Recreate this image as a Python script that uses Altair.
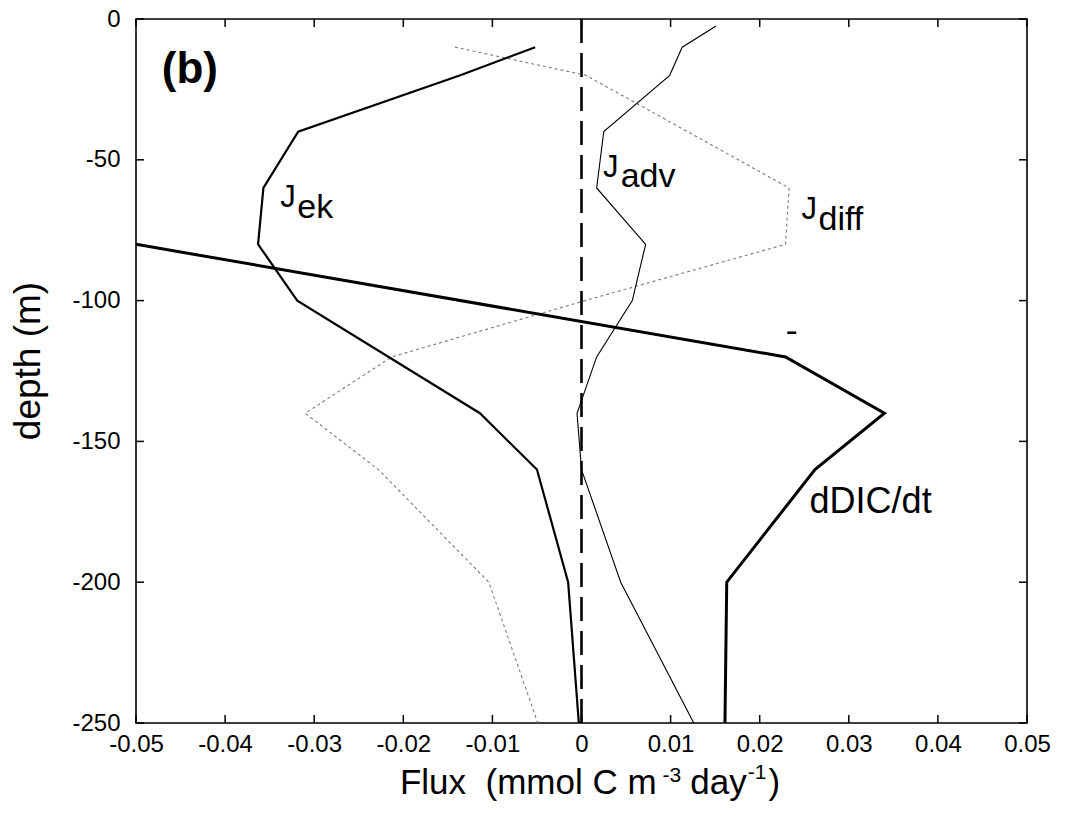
import altair as alt
import pandas as pd

# ---------------- data ----------------
depth_ek = [-10, -20, -40, -60, -80, -100, -140, -160, -200, -250]
flux_ek = [-0.0052, -0.0136, -0.0318, -0.0357, -0.0363, -0.0319, -0.0114, -0.0050, -0.0015, -0.0003]

depth_diff = [-10, -20, -60, -80, -100, -120, -140, -160, -200, -250]
flux_diff = [-0.0142, 0.0005, 0.0233, 0.0229, 0.0004, -0.0213, -0.0310, -0.0228, -0.0104, -0.0049]

depth_adv = [-2.5, -10, -20, -40, -60, -80, -100, -120, -140, -160, -200, -250]
flux_adv = [0.0151, 0.0113, 0.0099, 0.0025, 0.0017, 0.0072, 0.0057, 0.0017, -0.0005, 0.0000, 0.0044, 0.0126]

depth_ddic = [-80, -120, -140, -160, -200, -250]
flux_ddic = [-0.0500, 0.0229, 0.0340, 0.0262, 0.0163, 0.0161]

depth_zero = [0, -250]
flux_zero = [0.0, 0.0]

# small stray dash in the figure
dash_flux = [0.0231, 0.0241]
dash_depth = [-111.4, -111.4]

x_ticks = [-0.05, -0.04, -0.03, -0.02, -0.01, 0, 0.01, 0.02, 0.03, 0.04, 0.05]
y_ticks = [0, -50, -100, -150, -200, -250]

label_main = ["J", "J", "J", "dDIC/dt"]
label_main_x = [-0.0338, 0.0024, 0.0247, 0.0256]
label_main_y = [-66.8, -56.1, -71.0, -175.4]
label_main_size = [31, 31, 31, 36]

label_sub = ["ek", "adv", "diff"]
label_sub_x = [-0.0319, 0.0044, 0.0266]
label_sub_y = [-70.7, -59.7, -74.9]

panel_label = ["(b)"]
panel_x = [-0.0471]
panel_y = [-18.1]

# ---------------- layout ----------------
W, H = 891, 704
PAD_L, PAD_T = 136, 19
FONT = "Liberation Sans"

xs = alt.Scale(domain=[-0.05, 0.05], nice=False, zero=False)
ys = alt.Scale(domain=[-250, 0], nice=False, zero=False)

xaxis = alt.Axis(
    values=x_ticks, title=None, ticks=False, domain=False, grid=False,
    labelExpr="datum.value == 0 ? '0' : replace(format(datum.value, '.2f'), '\u2212', '-')",
    labelFontSize=24, labelFont=FONT, labelColor="black", labelPadding=9,
    labelFlush=False, labelOverlap=False,
)
yaxis = alt.Axis(
    values=y_ticks, title=None, ticks=False, domain=False, grid=False,
    labelExpr="replace(format(datum.value, 'd'), '\u2212', '-')",
    labelFontSize=24, labelFont=FONT, labelColor="black", labelPadding=16,
    labelFlush=False, labelOverlap=False,
)


def X():
    return alt.X("flux:Q", scale=xs, axis=xaxis)


def Y():
    return alt.Y("depth:Q", scale=ys, axis=yaxis)


def line_layer(xv, dv, **kw):
    df = pd.DataFrame({"flux": xv, "depth": dv, "i": list(range(len(xv)))})
    return alt.Chart(df).mark_line(clip=True, **kw).encode(
        x=X(), y=Y(), order=alt.Order("i:Q")
    )


zero_line = line_layer(flux_zero, depth_zero, color="black", strokeWidth=2.6, strokeDash=[24, 10])
l_diff = line_layer(flux_diff, depth_diff, color="#7a7a7a", strokeWidth=1.1, strokeDash=[3, 3])
l_adv = line_layer(flux_adv, depth_adv, color="black", strokeWidth=1.1)
l_ek = line_layer(flux_ek, depth_ek, color="black", strokeWidth=2.2)
l_ddic = line_layer(flux_ddic, depth_ddic, color="black", strokeWidth=3)

stray = alt.Chart(pd.DataFrame({"flux": [dash_flux[0]], "flux2": [dash_flux[1]], "depth": [dash_depth[0]]})).mark_rule(
    color="black", strokeWidth=2.5
).encode(x=X(), x2="flux2:Q", y=Y())

# inward ticks on all four sides
tdf_x = pd.DataFrame({"flux": x_ticks})
tdf_y = pd.DataFrame({"depth": y_ticks})
tick_top = alt.Chart(tdf_x).mark_rule(color="black", strokeWidth=1.5).encode(
    x=X(), y=alt.value(0), y2=alt.value(8))
tick_bot = alt.Chart(tdf_x).mark_rule(color="black", strokeWidth=1.5).encode(
    x=X(), y=alt.value(H), y2=alt.value(H - 8))
tick_left = alt.Chart(tdf_y).mark_rule(color="black", strokeWidth=1.5).encode(
    y=Y(), x=alt.value(0), x2=alt.value(8))
tick_right = alt.Chart(tdf_y).mark_rule(color="black", strokeWidth=1.5).encode(
    y=Y(), x=alt.value(W), x2=alt.value(W - 8))

# curve labels
main_df = pd.DataFrame({"flux": label_main_x, "depth": label_main_y, "text": label_main, "size": label_main_size})
main_txt = alt.Chart(main_df).mark_text(align="left", baseline="alphabetic", font=FONT, color="black").encode(
    x=X(), y=Y(), text="text:N", size=alt.Size("size:Q", scale=None, legend=None))
sub_df = pd.DataFrame({"flux": label_sub_x, "depth": label_sub_y, "text": label_sub})
sub_txt = alt.Chart(sub_df).mark_text(align="left", baseline="alphabetic", font=FONT, fontSize=34, color="black").encode(
    x=X(), y=Y(), text="text:N")
panel_df = pd.DataFrame({"flux": panel_x, "depth": panel_y, "text": panel_label})
panel_txt = alt.Chart(panel_df).mark_text(align="left", baseline="middle", font=FONT, fontSize=44,
                                          fontWeight="bold", color="black").encode(x=X(), y=Y(), text="text:N")

# axis titles (drawn as text so that superscripts can be shown)
one = pd.DataFrame({"k": [0]})
ytitle = alt.Chart(one).mark_text(angle=270, align="center", baseline="alphabetic", font=FONT,
                                  fontSize=37, color="black").encode(
    x=alt.value(-96), y=alt.value(342), text=alt.value("depth (m)"))

S, SS = 35, 21
em = {" ": 278, "\u00a0": 278, "(": 333, ")": 333, "-": 333, "1": 556, "3": 556, "F": 611, "l": 222,
      "u": 556, "x": 500, "m": 833, "o": 556, "C": 722, "d": 556, "a": 556, "y": 500}


def tw(s, size):
    return sum(em.get(c, 556) for c in s) * size / 1000.0


# (text, font size, baseline shift, gap before)
segs = [("Flux\u00a0 (mmol C m", S, 0, 0), ("-3", SS, -12, 6), ("day", S, 0, 9),
        ("-1", SS, -15, 1), (")", S, 0, 2)]
total = sum(tw(t, sz) + gap for t, sz, _, gap in segs)
xcenter, ybase = 454, 775
cur = xcenter - total / 2
xt_layers = []
for t, sz, dy, gap in segs:
    cur += gap
    xt_layers.append(
        alt.Chart(one).mark_text(align="left", baseline="alphabetic", font=FONT, fontSize=sz, color="black").encode(
            x=alt.value(cur), y=alt.value(ybase + dy), text=alt.value(t)))
    cur += tw(t, sz)

chart = alt.layer(
    zero_line, l_diff, l_adv, l_ek, l_ddic, stray,
    tick_top, tick_bot, tick_left, tick_right,
    main_txt, sub_txt, panel_txt, ytitle, *xt_layers,
).properties(
    width=W, height=H,
    autosize=alt.AutoSizeParams(type="none"),
    padding={"left": PAD_L, "top": PAD_T, "right": 1071 - PAD_L - W, "bottom": 823 - PAD_T - H},
    background="white",
).configure_view(stroke="black", strokeWidth=1.6)

chart.save("out.html", embed_options={"renderer": "svg", "actions": False})
